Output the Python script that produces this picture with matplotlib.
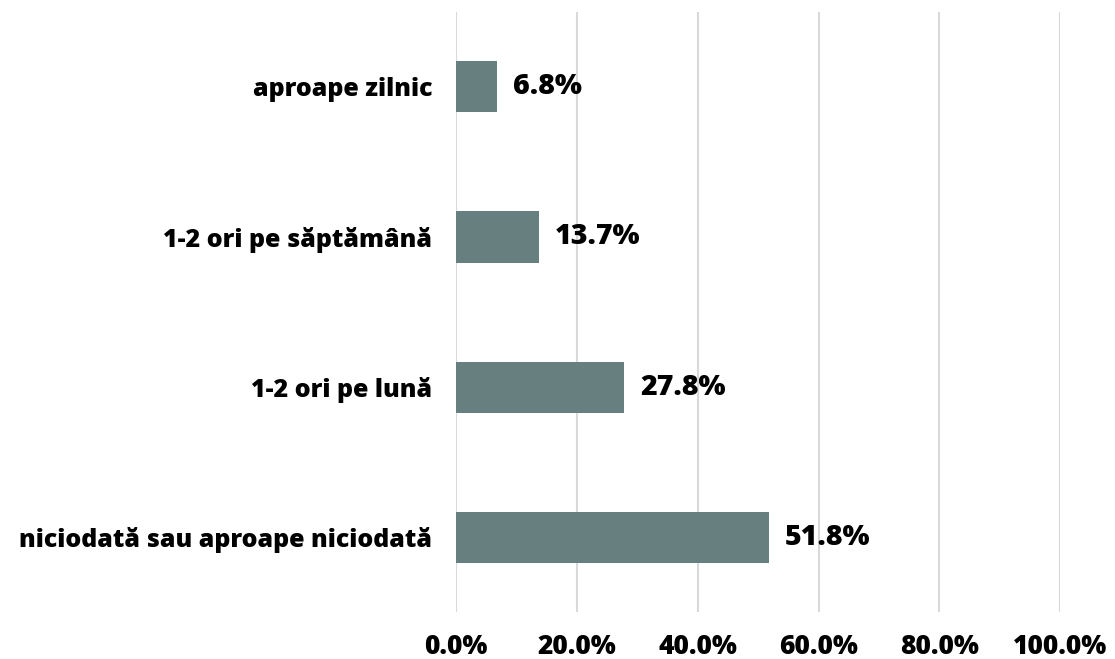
import matplotlib.pyplot as plt
from matplotlib.ticker import FuncFormatter

# Data
categories = ["niciodată sau aproape niciodată", "1-2 ori pe lună",
              "1-2 ori pe săptămână", "aproape zilnic"]
values = [51.8, 27.8, 13.7, 6.8]
xticks = [0, 20, 40, 60, 80, 100]

plt.rcParams["font.family"] = ["Open Sans", "DejaVu Sans"]

fig = plt.figure(figsize=(11.15, 6.59), dpi=100)
ax = fig.add_axes([0.409, 0.071, 0.542, 0.911])

ypos = range(len(categories))
ax.barh(ypos, values, height=0.34, color="#687F80", zorder=3)

for y, v in zip(ypos, values):
    ax.annotate(f"{v:.1f}%", (v, y), xytext=(11.5, 0), textcoords="offset points",
                va="center", ha="left", fontsize=20.5, fontweight="heavy")

ax.set_xlim(0, 100)
ax.set_ylim(-0.5, len(categories) - 0.5)
ax.set_xticks(xticks)
ax.xaxis.set_major_formatter(FuncFormatter(lambda x, _: f"{x:.1f}%"))
ax.set_yticks(list(ypos))
ax.set_yticklabels(categories)
ax.tick_params(axis="both", length=0)
ax.tick_params(axis="x", pad=16, labelsize=19)
ax.tick_params(axis="y", pad=17, labelsize=18)
for lbl in ax.get_xticklabels() + ax.get_yticklabels():
    lbl.set_fontweight("heavy")

ax.grid(axis="x", color="#D9D9D9", linewidth=1.5, zorder=0)
for s in ax.spines.values():
    s.set_visible(False)

fig.savefig("out.png", dpi=100)
